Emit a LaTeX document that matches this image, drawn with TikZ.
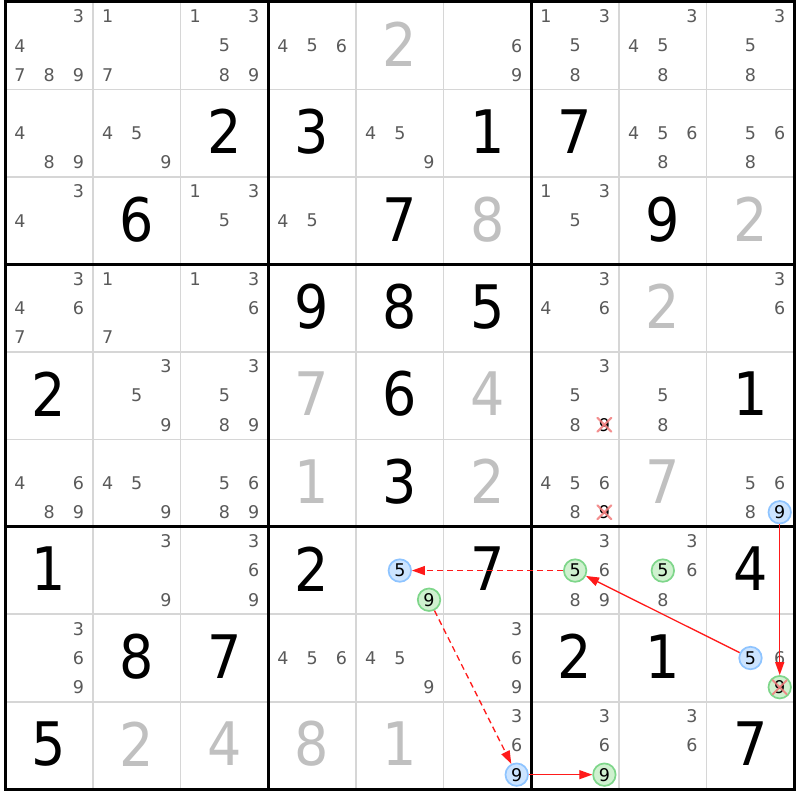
\documentclass[tikz,border=0pt]{standalone}
\usepackage{fontspec}
\setmainfont{DejaVu Sans Condensed}
\newfontfamily\candfont{DejaVu Sans}
\usetikzlibrary{arrows.meta}
\definecolor{candgray}{HTML}{5A5A5A}
\definecolor{solvgray}{HTML}{C0C0C0}
\definecolor{gridgray}{HTML}{D6D6D6}
\definecolor{bluefill}{HTML}{CCE4FF}
\definecolor{blueline}{HTML}{8EC4FF}
\definecolor{greenfill}{HTML}{CFF1CF}
\definecolor{greenline}{HTML}{7ED68A}
\definecolor{xred}{HTML}{F27C7C}
\definecolor{arrred}{HTML}{FF1A1A}
\newcommand\candpos[3]{%
  \pgfmathsetmacro\cx{5.3+(#2-1)*87.67+(2*mod(#3-1,3)+1)*14.612}%
  \pgfmathsetmacro\cy{2+(#1-1)*87.47+(2*floor((#3-1)/3)+1)*14.578}}
\newcommand\cand[4][]{\candpos{#2}{#3}{#4}\node[cand,#1] (k#2#3#4) at (\cx,\cy) {#4};}
\newcommand\bigdig[4]{%
  \pgfmathsetmacro\cx{5.3+(#3-0.5)*87.67}%
  \pgfmathsetmacro\cy{2+(#2-0.5)*87.47-1.5}%
  \node[#1] (g#2#3) at (\cx,\cy) {#4};}
\tikzset{
  cand/.style={text=candgray, font=\candfont\fontsize{17.5}{19}\selectfont, inner sep=0pt},
  given/.style={text=black, font=\fontsize{60}{62}\selectfont, inner sep=0pt},
  solved/.style={given, text=solvgray},
  hlblue/.style={circle, fill=bluefill, draw=blueline, line width=1.7pt, minimum size=22.5pt, inner sep=0pt, text=black},
  hlgreen/.style={circle, fill=greenfill, draw=greenline, line width=1.7pt, minimum size=22.5pt, inner sep=0pt, text=black},
  elim/.style={text=black},
  thin/.style={draw=gridgray, line width=1.6pt},
  thick/.style={draw=black, line width=3pt},
  arr/.style={draw=arrred, line width=1.3pt, -{Triangle[length=13pt,width=9pt]}},
  dash6/.style={dash pattern=on 6pt off 4pt},
  xmark/.style={draw=xred, line width=2pt, opacity=0.85, line cap=round}
}
\begin{document}
\begin{tikzpicture}[x=1pt,y=-1pt]
\useasboundingbox (0,0) rectangle (800,800);
\fill[white] (0,0) rectangle (800,800);
% grid
\foreach \i in {1,2,4,5,7,8}{
  \draw[thin] ({5.3+\i*87.67},2) -- ({5.3+\i*87.67},789.2);
  \draw[thin] (5.3,{2+\i*87.47}) -- (794.3,{2+\i*87.47});
}
\foreach \i in {0,3,6,9}{
  \draw[thick] ({5.3+\i*87.67},0.5) -- ({5.3+\i*87.67},790.7);
  \draw[thick] (3.8,{2+\i*87.47}) -- (795.8,{2+\i*87.47});
}
% given digits
\foreach \r/\c/\d in {2/3/2,2/4/3,2/6/1,2/7/7,3/2/6,3/5/7,3/8/9,4/4/9,4/5/8,4/6/5,5/1/2,5/5/6,5/9/1,6/5/3,7/1/1,7/4/2,7/6/7,7/9/4,8/2/8,8/3/7,8/7/2,8/8/1,9/1/5,9/9/7}
  {\bigdig{given}{\r}{\c}{\d}}
% solved digits
\foreach \r/\c/\d in {1/5/2,3/6/8,3/9/2,4/8/2,5/4/7,5/6/4,6/4/1,6/6/2,6/8/7,9/2/2,9/3/4,9/4/8,9/5/1}
  {\bigdig{solved}{\r}{\c}{\d}}
% candidates
\foreach \r/\c/\ds in {1/1/{3,4,7,8,9},1/2/{1,7},1/3/{1,3,5,8,9},1/4/{4,5,6},1/6/{6,9},1/7/{1,3,5,8},1/8/{3,4,5,8},1/9/{3,5,8},
  2/1/{4,8,9},2/2/{4,5,9},2/5/{4,5,9},2/8/{4,5,6,8},2/9/{5,6,8},
  3/1/{3,4},3/3/{1,3,5},3/4/{4,5},3/7/{1,3,5},
  4/1/{3,4,6,7},4/2/{1,7},4/3/{1,3,6},4/7/{3,4,6},4/9/{3,6},
  5/2/{3,5,9},5/3/{3,5,8,9},5/7/{3,5,8},5/8/{5,8},
  6/1/{4,6,8,9},6/2/{4,5,9},6/3/{5,6,8,9},6/7/{4,5,6,8},6/9/{5,6,8},
  7/2/{3,9},7/3/{3,6,9},7/7/{3,6,8,9},7/8/{3,6,8},
  8/1/{3,6,9},8/4/{4,5,6},8/5/{4,5,9},8/6/{3,6,9},8/9/{6},
  9/6/{3,6},9/7/{3,6},9/8/{3,6}}
  {\foreach \d in \ds {\cand{\r}{\c}{\d}}}
% eliminated / highlighted candidates
\cand[elim]{5}{7}{9}
\cand[elim]{6}{7}{9}
\cand[hlblue]{6}{9}{9}
\cand[hlblue]{7}{5}{5}
\cand[hlgreen]{7}{5}{9}
\cand[hlgreen]{7}{7}{5}
\cand[hlgreen]{7}{8}{5}
\cand[hlblue]{8}{9}{5}
\cand[hlgreen]{8}{9}{9}
\cand[hlblue]{9}{6}{9}
\cand[hlgreen]{9}{7}{9}
% red crosses
\foreach \n in {k579,k679,k899}{
  \draw[xmark] (\n.center) ++(-7,-7) -- ++(14,14);
  \draw[xmark] (\n.center) ++(-7,7) -- ++(14,-14);
}
% arrows
\draw[arr,dash6] (k775) -- (k755);
\draw[arr,dash6] (k759) -- (k969);
\draw[arr] (k969) -- (k979);
\draw[arr] (k895) -- (k775);
\draw[arr,line width=1.5pt] (k699) -- (k899);
\end{tikzpicture}
\end{document}
